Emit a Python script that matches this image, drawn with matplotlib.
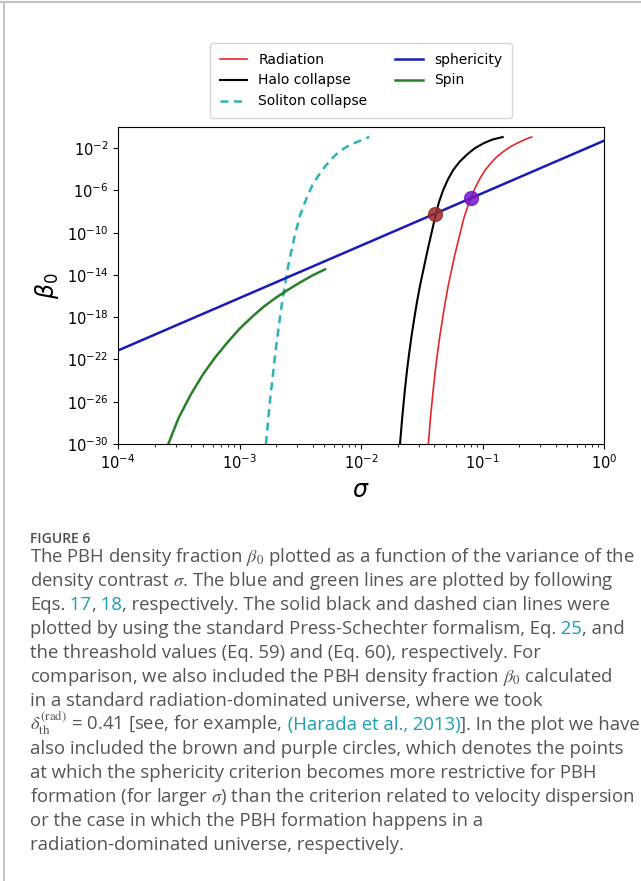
import numpy as np
import matplotlib
matplotlib.use('Agg')
import matplotlib.pyplot as plt
from matplotlib.lines import Line2D
from matplotlib.ticker import NullLocator

# values, stored as log10(sigma), log10(beta_0)
sig_rad = [-1.446, -1.427, -1.405, -1.387, -1.367, -1.35, -1.327, -1.307, -1.282, -1.258, -1.234,
           -1.212, -1.184, -1.153, -1.118, -1.095, -1.06, -1.02, -0.98, -0.93, -0.88, -0.82,
           -0.76, -0.70, -0.65, -0.595]
beta_rad = [-30.0, -27.4, -24.8, -22.9, -21.1, -19.7, -18.0, -16.6, -15.0, -13.7, -12.4,
            -11.35, -10.05, -8.6, -7.4, -6.7, -5.75, -4.85, -4.1, -3.4, -2.8, -2.25,
            -1.8, -1.45, -1.18, -0.95]

sig_halo = [-1.679, -1.66, -1.638, -1.62, -1.60, -1.583, -1.56, -1.54, -1.514, -1.49, -1.466,
            -1.446, -1.42, -1.391, -1.358, -1.323, -1.284, -1.24, -1.189, -1.13, -1.066,
            -0.993, -0.922, -0.834]
beta_halo = [-30.0, -27.4, -24.8, -22.9, -21.1, -19.7, -18.0, -16.6, -15.0, -13.7, -12.4,
             -11.35, -10.05, -8.6, -7.1, -5.95, -4.95, -4.05, -3.3, -2.63, -2.03,
             -1.55, -1.2, -0.95]

sig_sol = [-2.782, -2.75, -2.70, -2.65, -2.60, -2.55, -2.50, -2.45, -2.40, -2.35, -2.30,
           -2.25, -2.20, -2.15, -2.10, -2.05, -2.00, -1.97, -1.932]
beta_sol = [-30.0, -26.0, -20.9, -16.6, -13.2, -10.5, -8.3, -6.8, -5.5, -4.6, -3.8,
            -3.1, -2.55, -2.1, -1.75, -1.5, -1.27, -1.1, -0.95]

sig_sph = [-4.0, 0.0]
beta_sph = [-21.15, -1.30]

sig_spin = [-3.586, -3.5, -3.4, -3.3, -3.2, -3.1, -3.0, -2.9, -2.8, -2.7, -2.6, -2.5, -2.4, -2.296]
beta_spin = [-30.0, -27.5, -25.3, -23.4, -21.8, -20.4, -19.1, -18.0, -17.0, -16.15, -15.4, -14.7, -14.05, -13.47]

# crossing points with the sphericity line: brown (halo), purple (radiation)
cross_sig = [-1.391, -1.095]
cross_beta = [-8.25, -6.74]
cross_colors = ['#9b2a2a', '#7416c4']

W, H = 641, 881
fig = plt.figure(figsize=(W / 100, H / 100), dpi=100)
ax = fig.add_axes([118 / W, 1 - 444 / H, 486 / W, 317 / H])

p = lambda v: 10.0 ** np.array(v)
ax.plot(p(sig_rad), p(beta_rad), color='#e5262b', lw=1.2, label='Radiation')
ax.plot(p(sig_halo), p(beta_halo), color='black', lw=1.5, label='Halo collapse')
ax.plot(p(sig_sol), p(beta_sol), color='#2db3b3', lw=1.8, ls=(0, (3.2, 2.2)), label='Soliton collapse')
ax.plot(p(sig_sph), p(beta_sph), color='#1a1ab8', lw=1.8, label='sphericity')
ax.plot(p(sig_spin), p(beta_spin), color='#2a7f2a', lw=1.8, label='Spin')
for s, b, c in zip(cross_sig, cross_beta, cross_colors):
    ax.plot(10.0 ** s, 10.0 ** b, 'o', color=c, ms=10, alpha=0.85, zorder=5)

ax.set_xscale('log')
ax.set_yscale('log')
ax.set_xlim(1e-4, 1)
ax.set_ylim(1e-30, 1)
ax.set_yticks([10.0 ** k for k in range(-30, 0, 4)])
ax.yaxis.set_minor_locator(NullLocator())
ax.tick_params(labelsize=10.5)
ax.set_xlabel(r'$\sigma$', fontsize=17)
ax.set_ylabel(r'$\beta_0$', fontsize=17)

ax.legend(ncol=2, fontsize=10, loc='lower center', bbox_to_anchor=(0.5, 1.028),
          borderpad=0.7, borderaxespad=0)

# frame of the page
fig.add_artist(Line2D([0, 1], [1 - 2 / H, 1 - 2 / H], color='#c4c4c4', lw=1.5, transform=fig.transFigure))
fig.add_artist(Line2D([4 / W, 4 / W], [0, 1 - 2 / H], color='#c4c4c4', lw=1.5, transform=fig.transFigure))

# caption
grey = '#555555'
link = '#1a9fb5'
cap_font = dict(fontsize=13.3, family='Open Sans', math_fontfamily='stix')
caption = [
    [("The PBH density fraction $\\beta_0$ plotted as a function of the variance of the", grey)],
    [("density contrast $\\sigma$. The blue and green lines are plotted by following", grey)],
    [("Eqs.", grey), (" 17", link), (",", grey), (" 18", link), (", respectively. The solid black and dashed cian lines were", grey)],
    [("plotted by using the standard Press-Schechter formalism, Eq.", grey), (" 25", link), (", and", grey)],
    [("the threashold values (Eq. 59) and (Eq. 60), respectively. For", grey)],
    [("comparison, we also included the PBH density fraction $\\beta_0$ calculated", grey)],
    [("in a standard radiation-dominated universe, where we took", grey)],
    [("$\\delta_{\\rm th}^{\\rm (rad)}$ = 0.41 [see, for example,", grey), (" (Harada et al., 2013)", link), ("]. In the plot we have", grey)],
    [("also included the brown and purple circles, which denotes the points", grey)],
    [("at which the sphericity criterion becomes more restrictive for PBH", grey)],
    [("formation (for larger $\\sigma$) than the criterion related to velocity dispersion", grey)],
    [("or the case in which the PBH formation happens in a", grey)],
    [("radiation-dominated universe, respectively.", grey)],
]

x0 = 30
fig.text(x0 / W, 1 - 543 / H, 'FIGURE 6', fontsize=10, family='Open Sans', weight='semibold',
         color='#4d4d4d', va='baseline')
renderer = fig.canvas.get_renderer()
for i, segs in enumerate(caption):
    y = 1 - (562 + 24 * i) / H
    done = ''
    for txt, col in segs:
        done += txt
        probe = fig.text(0, 0, done, va='baseline', **cap_font)
        w = probe.get_window_extent(renderer).width
        probe.remove()
        fig.text((x0 + w) / W, y, txt, color=col, ha='right', va='baseline', **cap_font)

fig.savefig('out.png', dpi=100)
